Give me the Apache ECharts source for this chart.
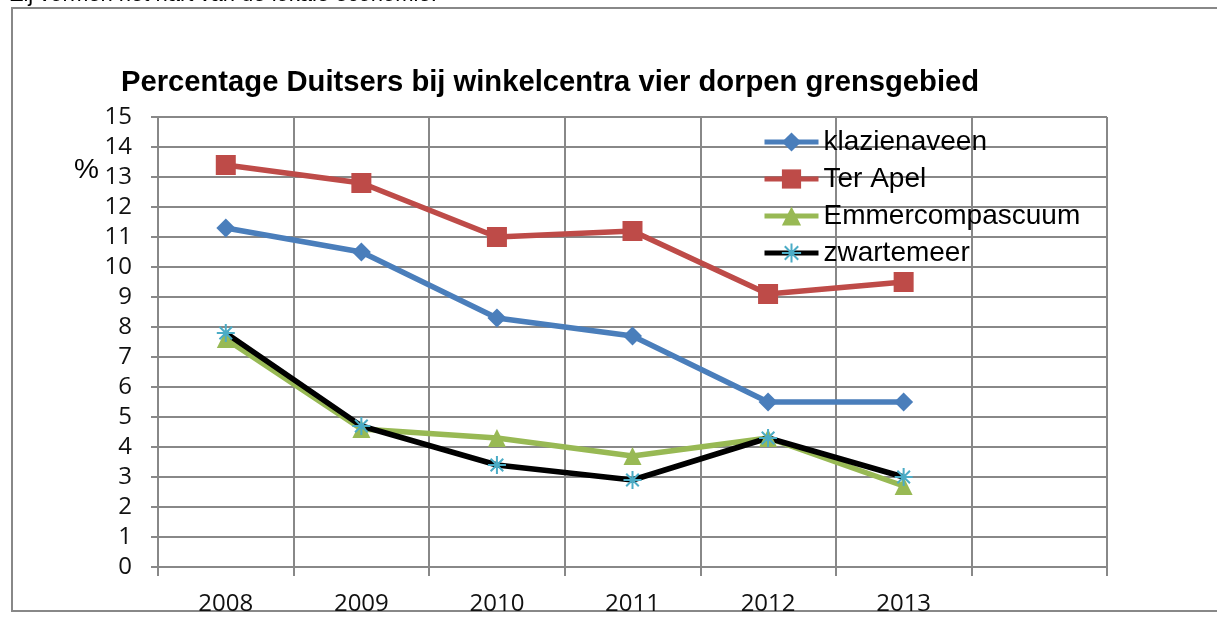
<!DOCTYPE html>
<html>
<head>
<meta charset="utf-8">
<script src="https://cdn.jsdelivr.net/npm/echarts@6/dist/echarts.min.js"></script>
<style>
  html, body { margin: 0; padding: 0; background: #fff; }
  #chart { width: 1217px; height: 621px; }
</style>
</head>
<body>
<div id="chart"></div>
<script>
// chart data
const years = ['2008', '2009', '2010', '2011', '2012', '2013', ''];
const klazienaveen = [11.3, 10.5, 8.3, 7.7, 5.5, 5.5];
const terApel = [13.4, 12.8, 11.0, 11.2, 9.1, 9.5];
const emmercompascuum = [7.6, 4.6, 4.3, 3.7, 4.3, 2.7];
const zwartemeer = [7.8, 4.7, 3.4, 2.9, 4.3, 3.0];

const gridColor = '#888888';
const labelFont = "'Open Sans', sans-serif";
const arial = "'Liberation Sans', Arial, sans-serif";

const myChart = echarts.init(document.getElementById('chart'));

myChart.setOption({
  animation: false,
  title: {
    text: 'Percentage Duitsers bij winkelcentra vier dorpen grensgebied',
    left: 116,
    top: 63,
    textStyle: { fontFamily: arial, fontSize: 29.2, fontWeight: 'bold', color: '#000' }
  },
  legend: {
    orient: 'vertical',
    left: 757,
    top: 122,
    itemWidth: 54,
    itemHeight: 24,
    itemGap: 7,
    lineStyle: { width: 5 },
    textStyle: { fontFamily: arial, fontSize: 28, color: '#000', lineHeight: 30 }
  },
  graphic: [
    {
      type: 'rect',
      shape: { x: 12, y: 8, width: 1220, height: 603 },
      style: { fill: 'none', stroke: gridColor, lineWidth: 2 }
    },
    {
      type: 'text',
      left: 10,
      top: -16.5,
      style: { text: 'Zij vormen het hart van de lokale economie.', font: '22px ' + arial, fill: '#000' }
    },
    {
      type: 'text',
      left: 74,
      top: 156,
      style: { text: '%', font: '28px ' + arial, fill: '#000' }
    }
  ],
  grid: { left: 158, right: 110, top: 117, bottom: 54 },
  xAxis: {
    type: 'category',
    data: years,
    boundaryGap: true,
    axisLine: { lineStyle: { color: gridColor, width: 2 } },
    axisTick: { show: true, length: 9, lineStyle: { color: gridColor, width: 2 } },
    axisLabel: { margin: 25, fontFamily: labelFont, fontSize: 24, color: '#111' },
    splitLine: { show: true, lineStyle: { color: gridColor, width: 2 } }
  },
  yAxis: {
    type: 'value',
    min: 0,
    max: 15,
    interval: 1,
    axisLine: { show: true, lineStyle: { color: gridColor, width: 2 } },
    axisTick: { show: true, length: 7, lineStyle: { color: gridColor, width: 2 } },
    axisLabel: { margin: 26, fontFamily: labelFont, fontSize: 24, color: '#111' },
    splitLine: { show: true, lineStyle: { color: gridColor, width: 2 } }
  },
  series: [
    {
      name: 'klazienaveen',
      type: 'line',
      data: klazienaveen,
      symbol: 'diamond',
      symbolSize: 19,
      itemStyle: { color: '#4A7EBB' },
      lineStyle: { color: '#4A7EBB', width: 5.5 }
    },
    {
      name: 'Ter Apel',
      type: 'line',
      data: terApel,
      symbol: 'rect',
      symbolSize: 20,
      itemStyle: { color: '#BE4B48' },
      lineStyle: { color: '#BE4B48', width: 5.5 }
    },
    {
      name: 'Emmercompascuum',
      type: 'line',
      data: emmercompascuum,
      symbol: 'triangle',
      symbolSize: 18,
      itemStyle: { color: '#98B954' },
      lineStyle: { color: '#98B954', width: 5.5 }
    },
    {
      name: 'zwartemeer',
      type: 'line',
      data: zwartemeer,
      symbol: 'path://M0,5L10,5M5,0L5,10M1.5,1.5L8.5,8.5M8.5,1.5L1.5,8.5',
      symbolSize: 18,
      itemStyle: { color: '#4BACC6', borderColor: '#4BACC6', borderWidth: 2 },
      lineStyle: { color: '#000', width: 5.5 }
    }
  ]
});

window.addEventListener('resize', () => myChart.resize());
</script>
</body>
</html>
